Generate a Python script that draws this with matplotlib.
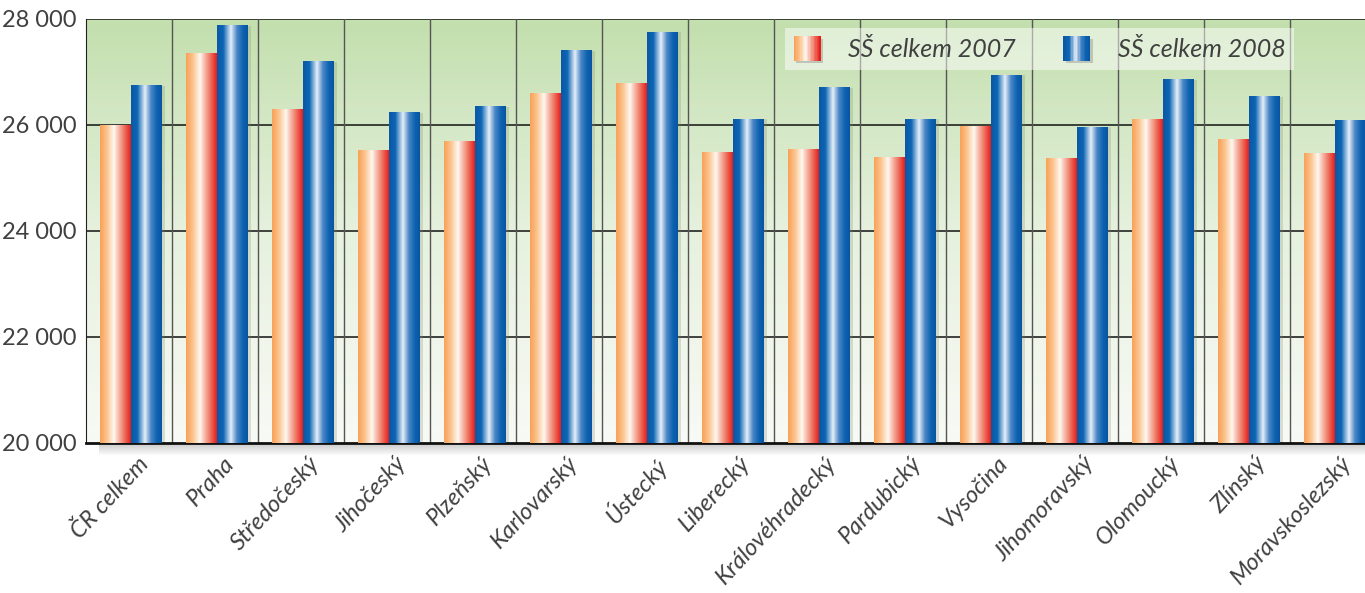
import numpy as np
import matplotlib
matplotlib.use('Agg')
import matplotlib.pyplot as plt
from matplotlib.patches import Rectangle, Patch
from matplotlib.legend_handler import HandlerBase
from matplotlib.colors import LinearSegmentedColormap

regions = ['ČR celkem', 'Praha', 'Středočeský', 'Jihočeský', 'Plzeňský', 'Karlovarský',
           'Ústecký', 'Liberecký', 'Královéhradecký', 'Pardubický', 'Vysočina',
           'Jihomoravský', 'Olomoucký', 'Zlínský', 'Moravskoslezský']
ss_2007 = [26000, 27340, 26300, 25510, 25680, 26600, 26790, 25490, 25530, 25380,
           25980, 25360, 26110, 25720, 25470]
ss_2008 = [26740, 27870, 27190, 26230, 26340, 27400, 27750, 26110, 26700, 26110,
           26940, 25960, 26850, 26530, 26090]
series_names = ['SŠ celkem 2007', 'SŠ celkem 2008']
yticks = [20000, 22000, 24000, 26000, 28000]
ytick_labels = ['20 000', '22 000', '24 000', '26 000', '28 000']

plt.rcParams['font.family'] = ['Lato', 'DejaVu Sans']

cmap_or = LinearSegmentedColormap.from_list('or', [(0, '#f9a157'), (0.22, '#fbc48f'), (0.45, '#fff8f0'),
                                                   (0.7, '#f29580'), (1, '#e5201b')])
cmap_bl = LinearSegmentedColormap.from_list('bl', [(0, '#0b58a6'), (0.2, '#0d66b4'), (0.45, '#e6eef8'),
                                                   (0.65, '#4a86c6'), (0.85, '#0b62b0'), (1, '#0a55a2')])
grad = np.linspace(0, 1, 64).reshape(1, -1)


class GradHandler(HandlerBase):
    def __init__(self, cmap):
        super().__init__()
        self.cmap = cmap

    def create_artists(self, legend, orig_handle, xdescent, ydescent, width, height, fontsize, trans):
        arts = [Rectangle((-xdescent + 2, -ydescent - 2), width, height, facecolor='#777777',
                          alpha=0.35, edgecolor='none', transform=trans)]
        n = 20
        w = width / n
        for k in range(n):
            r = Rectangle((-xdescent + k * w, -ydescent), w * 1.05, height,
                          facecolor=self.cmap(k / (n - 1)), edgecolor='none', transform=trans)
            arts.append(r)
        return arts


fig = plt.figure(figsize=(13.65, 5.93), dpi=100)
ax = fig.add_axes([0.063, 0.253, 0.945, 0.715])

x = np.arange(len(regions))
w = 0.36
xlim = (-0.5, len(regions) - 0.5)
ylim = (20000, 28000)

# background gradient
bg = LinearSegmentedColormap.from_list('bg', ['#f8faf5', '#e6f1de', '#c3dfae'])
ax.imshow(np.linspace(0, 1, 100).reshape(-1, 1), cmap=bg, origin='lower', aspect='auto',
          extent=(xlim[0], xlim[1], ylim[0], ylim[1]), zorder=0)
# shadow under the plot area
sh = LinearSegmentedColormap.from_list('sh', ['#ffffff', '#c9c9c9'])
ax.imshow(np.linspace(0, 1, 20).reshape(-1, 1), cmap=sh, origin='lower', aspect='auto',
          extent=(xlim[0] + 0.15, xlim[1], 19750, 19990), zorder=0, clip_on=False)

for y in yticks[1:]:
    ax.axhline(y, color='#111111', lw=1.1, zorder=1)
for b in np.arange(0.5, len(regions) - 0.5, 1):
    ax.axvline(b, color='#555555', lw=1.0, zorder=1)

for xs, vals, cm in [(x - 0.157, ss_2007, cmap_or), (x + 0.204, ss_2008, cmap_bl)]:
    # shadow
    ax.bar(xs + 0.04, np.array(vals) - 20000, width=w, bottom=20000, color='#7a8a70', alpha=0.25,
           zorder=2, linewidth=0)
    for xi, v in zip(xs, vals):
        ax.imshow(grad, cmap=cm, aspect='auto', extent=(xi - w / 2, xi + w / 2, 20000, v), zorder=3)

ax.set_xlim(*xlim)
ax.set_ylim(*ylim)
ax.set_yticks(yticks)
ax.set_yticklabels(ytick_labels, fontsize=17, color='#404040')
ax.set_xticks(x + 0.09)
ax.set_xticklabels(regions, rotation=47, ha='right', va='top', rotation_mode='anchor',
                   fontsize=17, style='italic', color='#404040')
ax.tick_params(length=0, pad=7)
for s in ['top', 'right']:
    ax.spines[s].set_visible(False)
ax.spines['left'].set_color('#222222')
ax.spines['bottom'].set_color('#111111')
ax.spines['bottom'].set_linewidth(2)

h1 = Patch(label=series_names[0])
h2 = Patch(label=series_names[1])
leg = ax.legend([h1, h2], series_names, ncol=2, loc='upper left', bbox_to_anchor=(0.542, 0.979),
                handler_map={h1: GradHandler(cmap_or), h2: GradHandler(cmap_bl)},
                prop={'size': 18, 'style': 'italic'}, labelcolor='#404040',
                handlelength=1.08, handleheight=1.12, columnspacing=1.9, handletextpad=1.1,
                frameon=True, fancybox=False, borderpad=0.34, borderaxespad=0)
leg.get_frame().set_facecolor('white')
leg.get_frame().set_alpha(0.5)
leg.get_frame().set_edgecolor('none')
leg.set_zorder(5)

fig.savefig('out.png', dpi=100)
